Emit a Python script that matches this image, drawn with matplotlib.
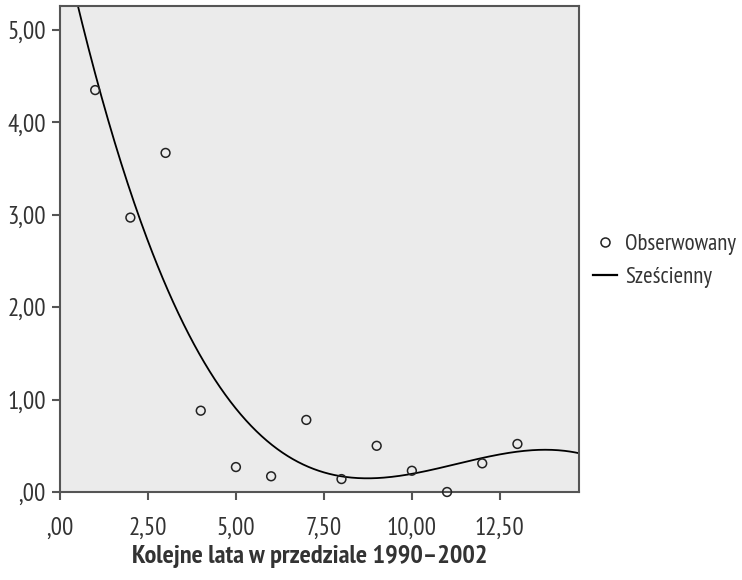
import numpy as np
import matplotlib
matplotlib.use("Agg")
import matplotlib.pyplot as plt
from matplotlib.ticker import FuncFormatter
from matplotlib.lines import Line2D

# Data
years = [1, 2, 3, 4, 5, 6, 7, 8, 9, 10, 11, 12, 13]
observed = [4.35, 2.97, 3.67, 0.88, 0.27, 0.17, 0.78, 0.14, 0.50, 0.23, 0.00, 0.31, 0.52]
x_ticks = [0, 2.5, 5.0, 7.5, 10.0, 12.5]
y_ticks = [0, 1, 2, 3, 4, 5]
xlabel = "Kolejne lata w przedziale 1990–2002"
legend_labels = ["Obserwowany", "Sześcienny"]

plt.rcParams['font.family'] = ['PT Sans Narrow', 'DejaVu Sans']

fig = plt.figure(figsize=(7.42, 5.80), dpi=100)
ax = fig.add_axes([60/742, 88/580, 519/742, 486/580])
ax.set_facecolor('#ebebeb')

coef = np.polyfit(years, observed, 3)
xs = np.linspace(0, 14.75, 400)
ax.plot(xs, np.polyval(coef, xs), color='black', lw=1.3, zorder=2)
ax.scatter(years, observed, s=40, facecolors='none', edgecolors='#222222', linewidths=1.1, zorder=3, clip_on=False)

ax.set_xlim(0, 14.75)
ax.set_ylim(0, 5.26)
ax.set_xticks(x_ticks)
ax.set_yticks(y_ticks)

def fmt(v, pos):
    s = f"{v:.2f}".replace('.', ',')
    if s.startswith('0,'):
        s = s[1:]
    return s

ax.xaxis.set_major_formatter(FuncFormatter(fmt))
ax.yaxis.set_major_formatter(FuncFormatter(fmt))
for sp in ax.spines.values():
    sp.set_color('#555555')
    sp.set_linewidth(1.5)
ax.tick_params(direction='out', length=6, width=1.5, color='#555555', labelsize=18, labelcolor='#333333')
ax.tick_params(axis='x', pad=12)
ax.tick_params(axis='y', pad=4)

fig.text(310/742, 1 - 556/580, xlabel, ha='center', va='center', fontsize=19, fontweight='bold', color='#333333')

handles = [Line2D([], [], marker='o', ls='none', mfc='none', mec='#222222', ms=6.5, mew=1.1),
           Line2D([], [], color='black', lw=1.6)]
fig.legend(handles, legend_labels, loc='center left', bbox_to_anchor=(593/742, 1 - 261/580),
           frameon=False, fontsize=16.5, handlelength=1.05, handletextpad=0.35, labelspacing=0.5,
           borderpad=0, borderaxespad=0, labelcolor='#333333')

fig.savefig("out.png", dpi=100)
